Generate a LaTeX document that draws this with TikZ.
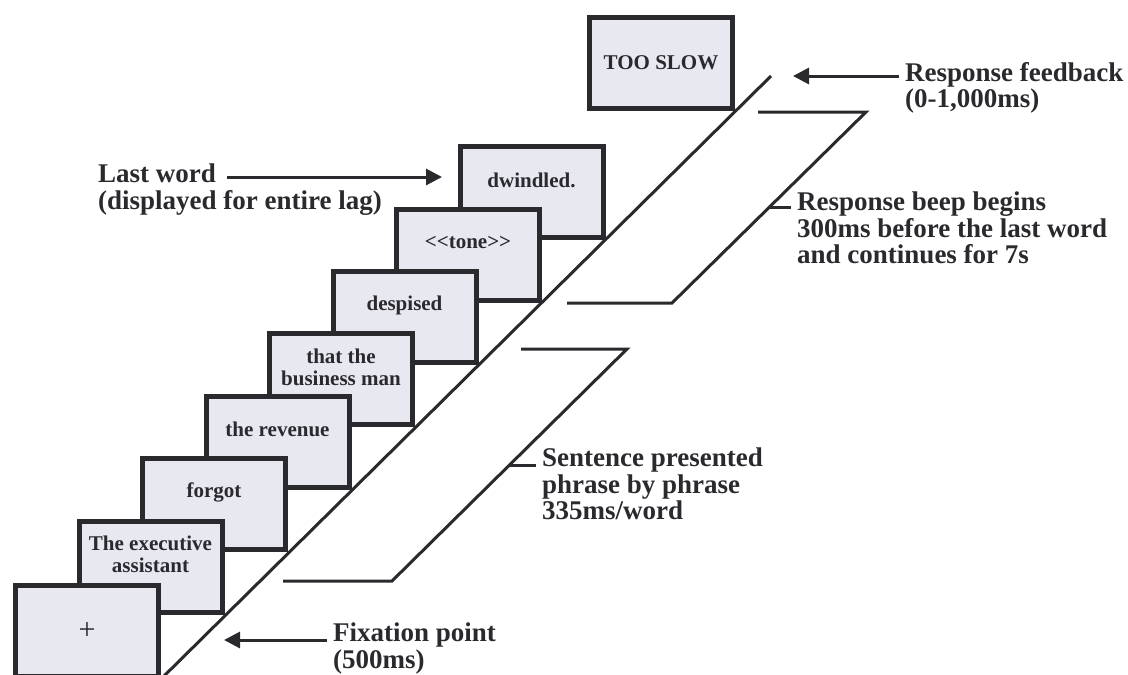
\documentclass[tikz,border=0pt]{standalone}
\usepackage{fontspec}
\setmainfont{Liberation Serif}
\usetikzlibrary{arrows.meta,positioning}
\definecolor{screenfill}{HTML}{E8E9F0}
\definecolor{ink}{HTML}{2A2A2E}

\begin{document}
\begin{tikzpicture}[x=1pt,y=-1pt,
  screen/.style={draw=ink,line width=5pt,fill=screenfill,minimum width=143pt,minimum height=91pt,inner sep=0pt,
    font=\fontsize{21}{22}\selectfont\bfseries,text=ink,align=center},
  word/.style={font=\fontsize{21}{22}\selectfont\bfseries,text=ink,align=center,inner sep=0pt},
  lbl/.style={font=\fontsize{27}{26.5}\selectfont\bfseries,text=ink,align=left,inner xsep=6pt,inner ysep=0pt},
  rail/.style={draw=ink,line width=3pt},
  pointer/.style={draw=ink,line width=3pt,-{Triangle[length=16pt,width=16pt]}}]
  \useasboundingbox (0,0) rectangle (1128,675);

  % screens, back to front
  \node[screen] (s9) at (661,63) {TOO SLOW};
  \foreach \i/\txt in {7/{dwindled.},6/{<\kern0pt<tone>\kern0pt>},5/{despised},4/{that the\\business man},
                       3/{the revenue},2/{forgot},1/{The executive\\assistant}} {
    \node[screen] (s\i) at (87+63.5*\i,629-62.4*\i) {};
    \node[word] (w\i) at ([yshift=12pt]s\i.center) {\txt};
  }
  \node[screen,font=\fontsize{30}{30}\selectfont] (s0) at (87,631) {+};

  % time line and brackets
  \coordinate (railtop) at (771,76);
  \draw[rail] (s0.south east) -- (railtop);
  \draw[rail] (567,303) -- (672,303) -- coordinate[pos=0.5] (beeptick) (866,112) -- (758,112);
  \draw[rail] (283,581) -- (392,581) -- coordinate[pos=0.5] (sentick) (627,349) -- (521,349);

  % labels
  \node[lbl,anchor=base west] (lastword) at (92,182) {Last word};
  \node[lbl,anchor=base west] (lastnote) at (92,209) {(displayed for entire lag)};
  \node[lbl,anchor=north west] (feedback) at (899,62) {Response feedback\\(0-1,000ms)};
  \node[lbl,anchor=north west] (beep) at (791,192) {Response beep begins\\300ms before the last word\\and continues for 7s};
  \node[lbl,anchor=north west] (sentence) at (536,448) {Sentence presented\\phrase by phrase\\335ms/word};
  \node[lbl,anchor=north west] (fixation) at (327,623) {Fixation point\\(500ms)};

  \coordinate (lasttip) at (442,177);
  \coordinate (feedtip) at (793,76);
  \coordinate (fixtip) at (224,640);
  \draw[pointer] ([xshift=5pt,yshift=5pt]lastword.base east) -- (lasttip);
  \draw[pointer] ([yshift=-14pt]feedback.north west) -- (feedtip);
  \draw[pointer] ([yshift=-17pt]fixation.north west) -- (fixtip);
  \draw[rail] (beeptick) -- (beeptick -| beep.west);
  \draw[rail] (sentick) -- (sentick -| sentence.west);
\end{tikzpicture}
\end{document}
